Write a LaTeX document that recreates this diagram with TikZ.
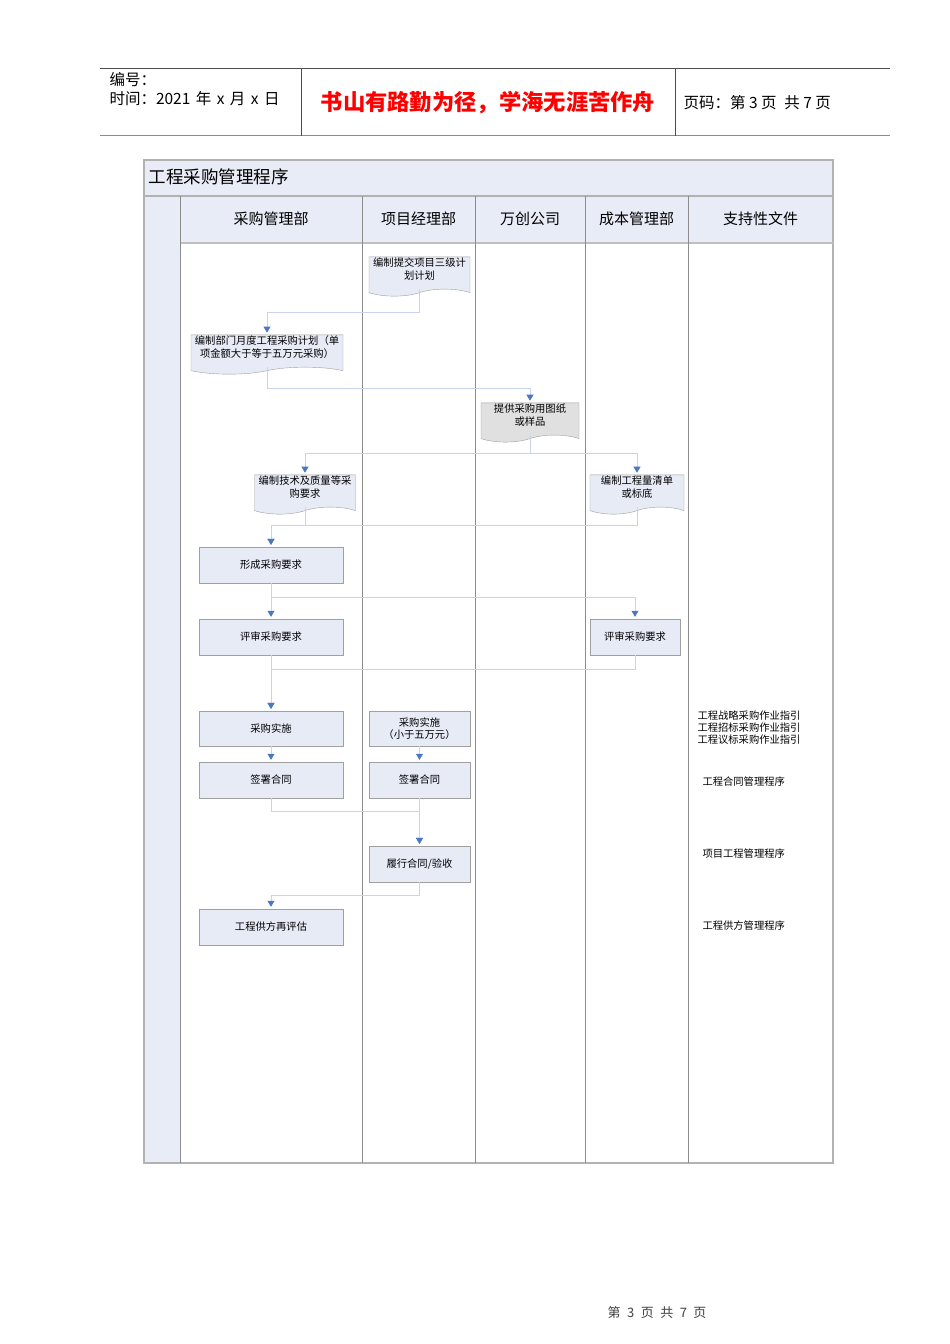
\documentclass[tikz,border=0pt]{standalone}
\usepackage{fontspec}
\setmainfont{Noto Sans CJK SC}
\usetikzlibrary{shapes.symbols,arrows.meta}
\definecolor{paleblue}{HTML}{E8ECF7}
\definecolor{boxblue}{HTML}{E6EBF6}
\definecolor{linkblue}{HTML}{C9D4EA}
\definecolor{tipblue}{HTML}{4A78C2}
\definecolor{framegray}{HTML}{A0A0A0}
\begin{document}
\begin{tikzpicture}[x=1pt,y=-1pt,
  procbox/.style={draw=framegray,fill=boxblue,minimum width=144pt,minimum height=36pt,align=center,font=\fontsize{10.3}{12.5}\selectfont,inner sep=1pt},
  docbox/.style={tape,tape bend top=none,tape bend bottom=in and out,tape bend height=7pt,draw=framegray,fill=boxblue,align=center,font=\fontsize{10.3}{12.5}\selectfont,inner sep=1pt,text depth=9pt},
  link/.style={draw=linkblue,line width=0.8pt,-{Triangle[length=6pt,width=7pt,color=tipblue]},shorten >=2pt},
  lanehead/.style={font=\fontsize{15}{18}\selectfont},
  note/.style={anchor=west,align=left,font=\fontsize{10.3}{12}\selectfont}]
  \useasboundingbox[fill=white] (0,0) rectangle (950,1344);

  \draw[black!70] (100,68) -- (890,68);
  \draw[black!45,line width=1.8pt] (100,135.5) -- (890,135.5);
  \draw[black!70] (301,68) -- (301,136) (675,68) -- (675,136);
  \node[anchor=west,font=\fontsize{15.5}{17}\selectfont] (serial) at (106,80) {编号：};
  \node[anchor=west,font=\fontsize{15.5}{17}\selectfont] (date) at (106,99) {时间：2021\hspace{.35em}年\hspace{.35em}x\hspace{.35em}月\hspace{.35em}x\hspace{.35em}日};
  \node[text=red,font=\fontsize{22.3}{25}\selectfont\bfseries] (motto) at (488,103) {书山有路勤为径，学海无涯苦作舟};
  \node[anchor=west,font=\fontsize{15.5}{17}\selectfont] (pageno) at (680,103) {页码：第 3 页\enspace 共 7 页};

  \fill[paleblue] (144,160) rectangle (833,243);
  \fill[paleblue] (144,243) rectangle (180,1163);
  \draw[black!30,line width=1.5pt] (144,160) rectangle (833,1163);
  \draw[black!30,line width=1.5pt] (144,196) -- (833,196);
  \draw[black!25,line width=1.2pt] (180,243) -- (833,243);
  \foreach \x in {180,362,475,585,688}
    \draw[black!45] (\x,196) -- (\x,1163);
  \node[anchor=west,font=\fontsize{17.5}{20}\selectfont] (title) at (145,177) {工程采购管理程序};
  \node[lanehead] (buy) at (271,219) {采购管理部};
  \node[lanehead] (pm) at (418.5,219) {项目经理部};
  \node[lanehead] (wc) at (530,219) {万创公司};
  \node[lanehead] (cost) at (636.5,219) {成本管理部};
  \node[lanehead] (docs) at (760.5,219) {支持性文件};

  \node[docbox,minimum width=101pt,minimum height=33pt] (plan3) at (419.5,273) {编制提交项目三级计\\划计划};
  \node[docbox,minimum width=152pt,minimum height=33pt] (month) at (267,351) {编制部门月度工程采购计划（单\\项金额大于等于五万元采购）};
  \node[docbox,minimum width=98pt,minimum height=33pt,fill=black!12] (draw) at (530,419) {提供采购用图纸\\或样品};
  \node[docbox,minimum width=101pt,minimum height=31pt] (tech) at (305,491) {编制技术及质量等采\\购要求};
  \node[docbox,minimum width=94pt,minimum height=31pt] (bill) at (637,491) {编制工程量清单\\或标底};
  \node[procbox] (form) at (271,565) {形成采购要求};
  \node[procbox] (rev) at (271,637) {评审采购要求};
  \node[procbox,minimum width=90pt] (revc) at (635,637) {评审采购要求};
  \node[procbox,minimum height=35pt] (buy1) at (271,728.5) {采购实施};
  \node[procbox,minimum width=101pt,minimum height=35pt] (buy2) at (419.5,728.5) {采购实施\\（小于五万元）};
  \node[procbox] (sign1) at (271,780) {签署合同};
  \node[procbox,minimum width=101pt] (sign2) at (419.5,780) {签署合同};
  \node[procbox,minimum width=101pt] (exec) at (419.5,864) {履行合同/验收};
  \node[procbox] (eval) at (271,927) {工程供方再评估};

  \node[note] (guide) at (694,728) {工程战略采购作业指引\\工程招标采购作业指引\\工程议标采购作业指引};
  \node[note] (contract) at (699,782) {工程合同管理程序};
  \node[note] (project) at (699,854) {项目工程管理程序};
  \node[note] (supplier) at (699,926) {工程供方管理程序};

  \draw[link] (plan3.south) -- ++(0,23) -| (month.north);
  \draw[link] (month.south) -- ++(0,21) -| (draw.north);
  \draw[link] (draw.south) -- ++(0,18) -| (tech.north);
  \draw[link] (draw.south) -- ++(0,18) -| (bill.north);
  \draw[link] (tech.south) -- ++(0,18) -| (form.north);
  \draw[link] (bill.south) -- ++(0,18) -| (form.north);
  \draw[link] (form) -- (rev);
  \draw[link] (form.south) -- ++(0,14) -| (revc.north);
  \draw[link] (rev) -- (buy1);
  \draw[link] (revc.south) -- ++(0,14) -| (buy1.north);
  \draw[link] (buy1) -- (sign1);
  \draw[link] (buy2) -- (sign2);
  \draw[link] (sign1.south) -- ++(0,13) -| (exec.north);
  \draw[link] (sign2) -- (exec);
  \draw[link] (exec.south) -- ++(0,13) -| (eval.north);

  \node[text=black!75,font=\fontsize{13}{15}\selectfont] (foot) at (657,1313) {第\enspace 3\enspace 页\enspace 共\enspace 7\enspace 页};
\end{tikzpicture}
\end{document}
